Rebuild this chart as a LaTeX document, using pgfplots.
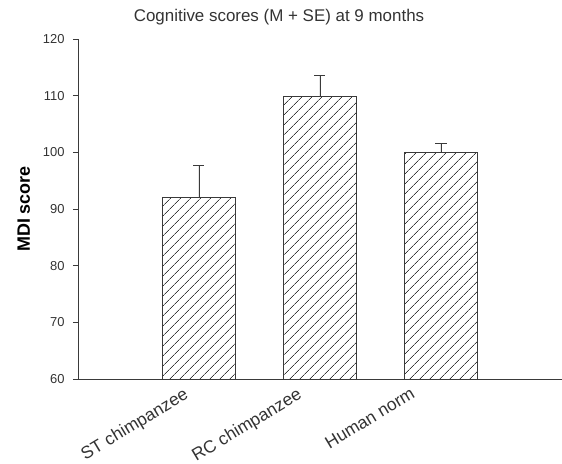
\documentclass[border=0pt]{standalone}
\usepackage{fontspec}
\setmainfont{Liberation Sans}
\usepackage{pgfplots}
\pgfplotsset{compat=1.18}
\usetikzlibrary{patterns.meta}
\definecolor{txt}{HTML}{333333}
\definecolor{edge}{HTML}{3A3A3A}
\begin{document}
\begin{tikzpicture}
\useasboundingbox (-78bp,-85bp) rectangle (484bp,379bp);
\begin{axis}[
  at={(0,0)}, anchor=south west,
  scale only axis, width=484bp, height=340bp,
  xmin=0, xmax=4, ymin=60, ymax=120,
  axis x line*=bottom, axis y line*=left,
  axis line style={edge, line width=0.9pt},
  ytick={60,70,...,120},
  xtick={1,2,3}, xticklabels={ST chimpanzee, RC chimpanzee, Human norm},
  major x tick style={draw=none},
  ytick style={edge, line width=0.7pt},
  tick align=outside, major tick length=5bp,
  /pgf/number format/assume math mode=true,
  yticklabel style={font=\fontsize{13}{14}\selectfont, text=txt, xshift=-5bp},
  xticklabel style={font=\fontsize{17.5}{18}\selectfont, text=txt, xshift={-15bp-7.5bp*\ticknum}, yshift=2bp, rotate=31, anchor=north east},
  ylabel={\bfseries MDI score},
  ylabel style={font=\fontsize{18}{19}\selectfont, text=black, yshift=6bp},
  title={Cognitive scores (M + SE) at 9 months},
  title style={font=\fontsize{17}{18}\selectfont, text=txt, xshift=-41bp, yshift=4bp},
  ybar, bar width=0.6,
]
\addplot[draw=edge, line width=0.8pt, fill=white,
  postaction={pattern={Lines[angle=45, distance=6.8bp, line width=0.8pt]}, pattern color=edge},
  error bars/.cd, y dir=plus, y explicit,
  error bar style={edge, line width=0.9pt},
  error mark options={rotate=90, mark size=5.5bp, line width=0.9pt}]
coordinates {
  (1,92.0) +- (0,5.7)
  (2,109.8) +- (0,3.8)
  (3,100.0) +- (0,1.6)
};
\end{axis}
\end{tikzpicture}
\end{document}
